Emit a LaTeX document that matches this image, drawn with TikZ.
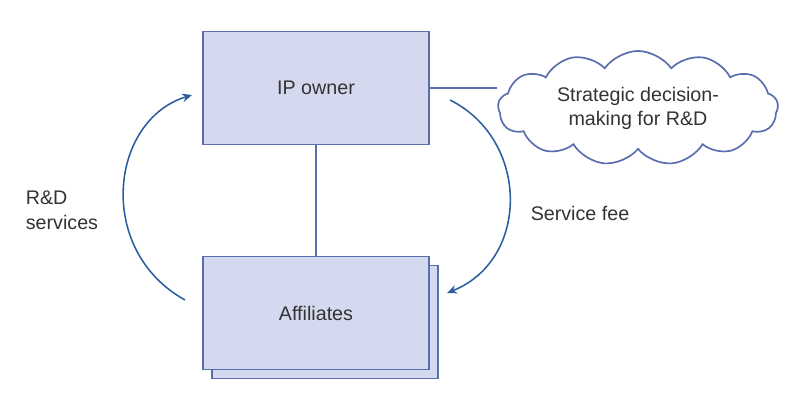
\documentclass[tikz,border=0pt]{standalone}
\usepackage{fontspec}
\setmainfont{Liberation Sans}
\usetikzlibrary{shapes.symbols,arrows.meta}
\definecolor{boxfill}{HTML}{D5D9EF}
\definecolor{boxline}{HTML}{5A6DAE}
\definecolor{arcblue}{HTML}{2A5E9E}
\begin{document}
\begin{tikzpicture}[x=0.025cm,y=-0.025cm,
  entity/.style={draw=boxline,fill=boxfill,line width=1.2pt,minimum width=5.65cm,minimum height=2.83cm,font=\fontsize{14}{16}\selectfont,text=black!80},
  flow/.style={draw=arcblue,line width=1.1pt,-{Stealth[length=7pt,width=6pt]}}]
  \useasboundingbox (0,0) rectangle (800,411);
  % boxes
  \node[entity](back) at (325,322) {};
  \node[entity](aff) at (316,313) {Affiliates};
  \node[entity](ip) at (316,88) {IP owner};
  \node[cloud,cloud puffs=13,cloud puff arc=110,aspect=2.6,draw=boxline,line width=1.2pt,minimum width=7cm,minimum height=2.7cm,inner sep=0pt,align=center,font=\fontsize{14}{17}\selectfont,text=black!80](cl) at (638,108) {Strategic decision-\\making for R\&D};
  % links
  \draw[boxline,line width=1.2pt] (ip.south) -- (aff.north);
  \draw[boxline,line width=1.2pt] (ip.east) -- (cl.west |- ip.east);
  \coordinate (la) at (185,300);
  \coordinate (lb) at (192,95);
  \coordinate (ra) at (450,100);
  \coordinate (rb) at (447,293);
  \draw[flow] (la) .. controls (95,250) and (110,120) .. (lb);
  \draw[flow] (ra) .. controls (530,140) and (530,260) .. (rb);
  \node[align=left,font=\fontsize{14}{18}\selectfont,text=black!80](rd) at (62,210) {R\&D\\services};
  \node[font=\fontsize{14}{16}\selectfont,text=black!80](fee) at (580,213) {Service fee};
\end{tikzpicture}
\end{document}
